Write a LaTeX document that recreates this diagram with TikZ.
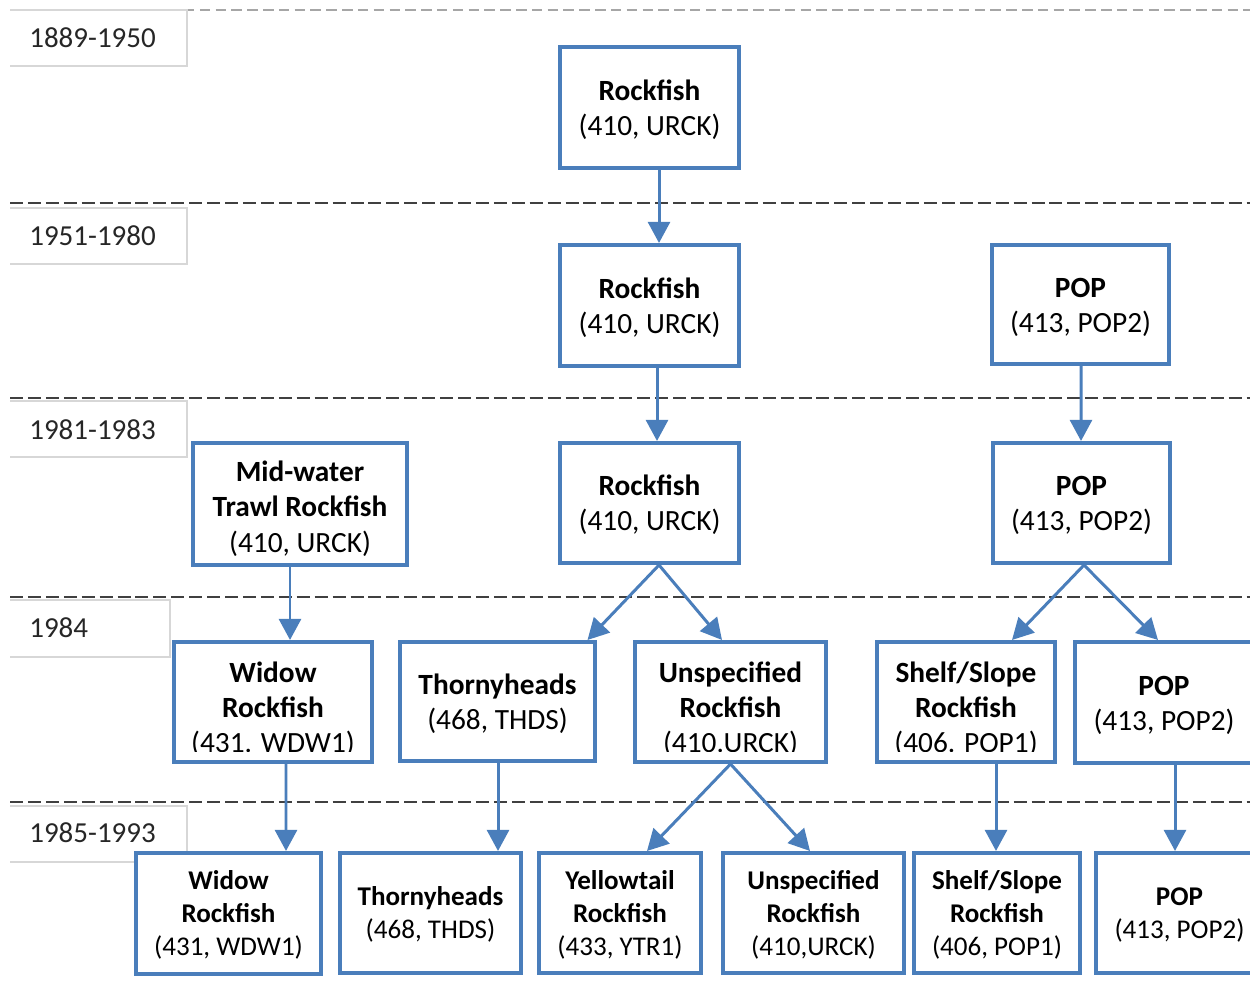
\documentclass[tikz,border=0pt]{standalone}
\usepackage{fontspec}
\setmainfont{Carlito}
\usetikzlibrary{arrows.meta,calc}
\definecolor{bl}{RGB}{74,126,187}
\definecolor{yrline}{RGB}{215,215,215}
\newcommand\topA{\rule{0pt}{14pt}}
\newcommand\topB{\rule{0pt}{17pt}}
\newcommand\topC{\rule{0pt}{12.8pt}}
\newcommand\topD{\rule{0pt}{20pt}}
\begin{document}
\begin{tikzpicture}[x=0.02cm,y=-0.02cm,
  box/.style 2 args={draw=bl, line width=2.3pt, fill=white, align=center, inner sep=0pt,
    minimum width=#1*0.02cm, minimum height=#2*0.02cm, font=\fontsize{16.7}{20}\selectfont},
  sbox/.style 2 args={box={#1}{#2}, font=\fontsize{15.4}{18.8}\selectfont},
  arr/.style={draw=bl, line width=1.7pt, -{Triangle[width=12.5pt,length=12pt]}},
  dl/.style={draw=black!75, line width=1.1pt, dash pattern=on 7.4pt off 2.8pt},
  dltop/.style={draw=black!35, line width=0.6pt, dash pattern=on 6pt off 3pt},
  yrbox/.style={draw=yrline, line width=0.8pt},
  yrtext/.style={anchor=west, inner sep=0pt, text=black!85, font=\fontsize{16.5}{20}\selectfont}
]
\useasboundingbox (0,0) rectangle (1250,1000);
% period separators
\draw[dltop] (10,10) -- (1250,10);
\draw[dl] (10,203) -- (1250,203);
\draw[dl] (10,398) -- (1250,398);
\draw[dl] (10,597) -- (1250,597);
\draw[dl] (10,802) -- (1250,802);
% year labels
\draw[yrbox] (10,10) -| (187,66) -- (10,66);
\node[yrtext] (y1) at (29,38) {1889-1950};
\draw[yrbox] (10,208) -| (187,264) -- (10,264);
\node[yrtext] (y2) at (29,236) {1951-1980};
\draw[yrbox] (10,401) -| (187,457) -- (10,457);
\node[yrtext] (y3) at (29,430) {1981-1983};
\draw[yrbox] (10,600) -| (170,657) -- (10,657);
\node[yrtext] (y4) at (29,628) {1984};
\draw[yrbox] (10,806) -| (187,862) -- (10,862);
\node[yrtext] (y5) at (29,833) {1985-1993};
% row 1
\node[box={179}{121}] (a1) at (649.5,107.5) {\topA\textbf{Rockfish}\\(410, URCK)};
% row 2
\node[box={179}{121}] (b1) at (649.5,305.5) {\topA\textbf{Rockfish}\\(410, URCK)};
\node[box={177}{119}] (b2) at (1080.5,304.5) {\topA\textbf{POP}\\(413, POP2)};
% row 3
\node[box={214}{122}] (c1) at (300,504) {\topB\textbf{Mid-water}\\\textbf{Trawl Rockfish}\\(410, URCK)};
\node[box={179}{120}] (c2) at (649.5,503) {\topA\textbf{Rockfish}\\(410, URCK)};
\node[box={177}{120}] (c3) at (1081.5,503) {\topA\textbf{POP}\\(413, POP2)};
% row 4
\node[box={198}{120}] (d1) at (273,702) {\topD\textbf{Widow}\\\textbf{Rockfish}\\(431. WDW1)};
\node[box={195}{119}] (d2) at (497.5,701.5) {\topA\textbf{Thornyheads}\\(468, THDS)};
\node[box={191}{120}] (d3) at (730.5,702) {\topD\textbf{Unspecified}\\\textbf{Rockfish}\\(410.URCK)};
\node[box={178}{120}] (d4) at (966,702) {\topD\textbf{Shelf/Slope}\\\textbf{Rockfish}\\(406. POP1)};
\node[box={178}{121}] (d5) at (1164,702.5) {\topA\textbf{POP}\\(413, POP2)};
% text clipped at the bottom of three boxes
\fill[white] (176,752) rectangle (370,759.5);
\fill[white] (637,752) rectangle (824,759.5);
\fill[white] (879,752) rectangle (1053,759.5);
% row 5
\node[sbox={185}{121}] (e1) at (228.5,913.5) {\topC\textbf{Widow}\\\textbf{Rockfish}\\(431, WDW1)};
\node[sbox={181}{120}] (e2) at (430.5,913) {\topC\textbf{Thornyheads}\\(468, THDS)};
\node[sbox={162}{120}] (e3) at (620,913) {\topC\textbf{Yellowtail}\\\textbf{Rockfish}\\(433, YTR1)};
\node[sbox={181}{120}] (e4) at (813.5,913) {\topC\textbf{Unspecified}\\\textbf{Rockfish}\\(410,URCK)};
\node[sbox={166}{120}] (e5) at (997,913) {\topC\textbf{Shelf/Slope}\\\textbf{Rockfish}\\(406, POP1)};
\node[sbox={167}{120}] (e6) at (1179.5,913) {\topC\textbf{POP}\\(413, POP2)};
% connectors
\draw[arr] ($(a1.south)+(9.5,0)$) -- ($(b1.north)+(9.5,0)$);
\draw[arr] ($(b1.south)+(7.5,0)$) -- ($(c2.north)+(7.5,0)$);
\draw[arr] ($(b2.south)+(0.5,0)$) -- ($(c3.north)+(-0.5,0)$);
\draw[arr] ($(c1.south)+(-10,0)$) -- ($(d1.north)+(17,0)$);
\draw[arr] ($(c2.south)+(9.5,0)$) -- ($(d2.north)+(90,0)$);
\draw[arr] ($(c2.south)+(9.5,0)$) -- ($(d3.north)+(-8.5,0)$);
\draw[arr] ($(c3.south)+(2.5,0)$) -- ($(d4.north)+(46,0)$);
\draw[arr] ($(c3.south)+(2.5,0)$) -- ($(d5.north)+(-6,0)$);
\draw[arr] ($(d1.south)+(13,0)$) -- ($(e1.north)+(57.5,0)$);
\draw[arr] ($(d2.south)+(0.5,0)$) -- ($(e2.north)+(67.5,0)$);
\draw[arr] (d3.south) -- ($(e3.north)+(27,0)$);
\draw[arr] (d3.south) -- ($(e4.north)+(-3.5,0)$);
\draw[arr] ($(d4.south)+(30,0)$) -- ($(e5.north)+(-1,0)$);
\draw[arr] ($(d5.south)+(11,0)$) -- ($(e6.north)+(-4.5,0)$);
\end{tikzpicture}
\end{document}
